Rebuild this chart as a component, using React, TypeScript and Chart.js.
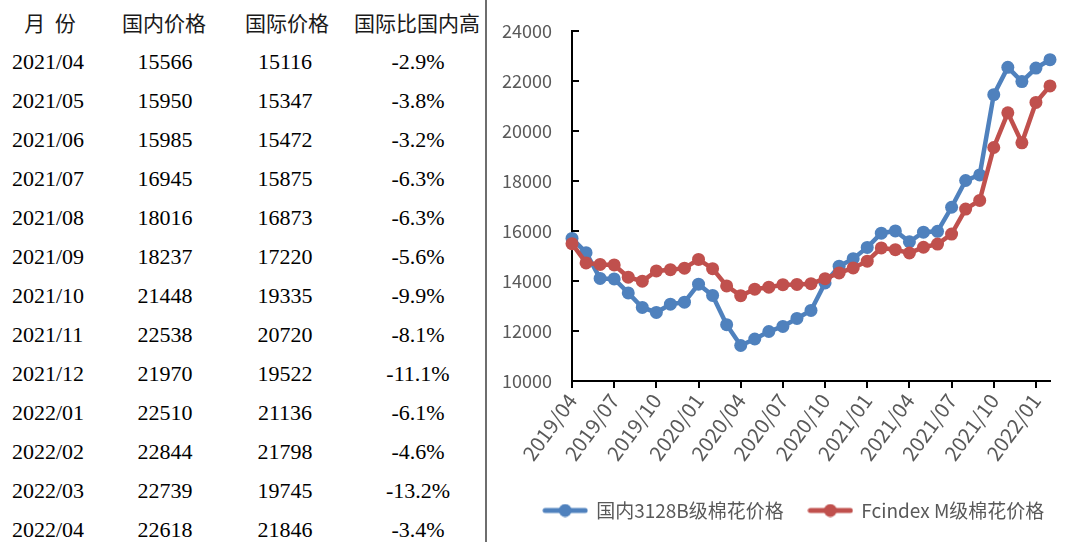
import React, { useEffect, useRef } from "react";
import { Chart, registerables } from "chart.js";

Chart.register(...registerables);

// ---------- chart data ----------
const months = [
  "2019/04", "2019/05", "2019/06", "2019/07", "2019/08", "2019/09", "2019/10", "2019/11", "2019/12",
  "2020/01", "2020/02", "2020/03", "2020/04", "2020/05", "2020/06", "2020/07", "2020/08", "2020/09",
  "2020/10", "2020/11", "2020/12", "2021/01", "2021/02", "2021/03", "2021/04", "2021/05", "2021/06",
  "2021/07", "2021/08", "2021/09", "2021/10", "2021/11", "2021/12", "2022/01", "2022/02",
];
const domestic3128B = [
  15700, 15130, 14100, 14080, 13520, 12940, 12740, 13070, 13150,
  13870, 13420, 12250, 11420, 11680, 11980, 12180, 12500, 12820,
  13920, 14590, 14890, 15340, 15910, 16000, 15566, 15950, 15985,
  16945, 18016, 18237, 21448, 22538, 21970, 22510, 22844,
];
const fcindexM = [
  15490, 14720, 14660, 14640, 14150, 13990, 14400, 14450, 14510,
  14860, 14490, 13800, 13410, 13670, 13750, 13850, 13860, 13890,
  14090, 14320, 14520, 14790, 15320, 15250, 15116, 15347, 15472,
  15875, 16873, 17220, 19335, 20720, 19522, 21136, 21798,
];
const seriesNames = ["国内3128B级棉花价格", "Fcindex M级棉花价格"];
const yMin = 10000;
const yMax = 24000;
const yStep = 2000;
const xLabelEvery = 3;

// ---------- table data ----------
const tableHeaders = ["月 份", "国内价格", "国际价格", "国际比国内高"];
const tableMonths = [
  "2021/04", "2021/05", "2021/06", "2021/07", "2021/08", "2021/09", "2021/10",
  "2021/11", "2021/12", "2022/01", "2022/02", "2022/03", "2022/04",
];
const tableDomestic = [15566, 15950, 15985, 16945, 18016, 18237, 21448, 22538, 21970, 22510, 22844, 22739, 22618];
const tableIntl = [15116, 15347, 15472, 15875, 16873, 17220, 19335, 20720, 19522, 21136, 21798, 19745, 21846];
const tableDiff = ["-2.9%", "-3.8%", "-3.2%", "-6.3%", "-6.3%", "-5.6%", "-9.9%", "-8.1%", "-11.1%", "-6.1%", "-4.6%", "-13.2%", "-3.4%"];

const BLUE = "#4F81BD";
const RED = "#C0504D";
const AXIS_TEXT = "#595959";
const CJK = "'Noto Sans CJK SC', 'Noto Sans', sans-serif";

function legendSample(color: string): HTMLCanvasElement {
  const c = document.createElement("canvas");
  c.width = 46;
  c.height = 14;
  const ctx = c.getContext("2d")!;
  ctx.strokeStyle = color;
  ctx.lineWidth = 5;
  ctx.lineCap = "round";
  ctx.beginPath();
  ctx.moveTo(3, 7);
  ctx.lineTo(43, 7);
  ctx.stroke();
  ctx.fillStyle = color;
  ctx.beginPath();
  ctx.arc(23, 7, 6.5, 0, Math.PI * 2);
  ctx.fill();
  return c;
}

const innerYTicks = {
  id: "innerYTicks",
  afterDraw(chart: any) {
    const y = chart.scales.y;
    const area = chart.chartArea;
    const ctx = chart.ctx;
    ctx.save();
    ctx.strokeStyle = "#000";
    ctx.lineWidth = 2;
    y.ticks.forEach((t: any) => {
      const py = Math.round(y.getPixelForValue(t.value));
      ctx.beginPath();
      ctx.moveTo(area.left, py);
      ctx.lineTo(area.left + 7, py);
      ctx.stroke();
    });
    ctx.restore();
  },
};

function PriceChart() {
  const ref = useRef<HTMLCanvasElement | null>(null);
  useEffect(() => {
    if (!ref.current) return;
    const samples = [legendSample(BLUE), legendSample(RED)];
    const chart = new Chart(ref.current, {
      type: "line",
      data: {
        labels: months,
        datasets: [
          {
            label: seriesNames[0],
            data: domestic3128B,
            borderColor: BLUE,
            backgroundColor: BLUE,
            borderWidth: 4.5,
            pointRadius: 6.5,
            pointBorderWidth: 0,
            pointBackgroundColor: BLUE,
            tension: 0,
            clip: false,
            order: 2,
          },
          {
            label: seriesNames[1],
            data: fcindexM,
            borderColor: RED,
            backgroundColor: RED,
            borderWidth: 4.5,
            pointRadius: 6.5,
            pointBorderWidth: 0,
            pointBackgroundColor: RED,
            tension: 0,
            clip: false,
            order: 1,
          },
        ],
      },
      options: {
        responsive: false,
        animation: false,
        layout: { padding: { top: 29, right: 0, bottom: 12, left: 10 } },
        plugins: {
          tooltip: { enabled: false },
          legend: {
            display: true,
            position: "bottom",
            labels: {
              usePointStyle: true,
              pointStyleWidth: 43,
              padding: 25,
              color: AXIS_TEXT,
              font: { family: CJK, size: 19 },
              generateLabels: (c: any) => {
                const items = Chart.defaults.plugins.legend.labels.generateLabels(c);
                items.sort((a: any, b: any) => a.datasetIndex - b.datasetIndex);
                items.forEach((it: any) => {
                  it.pointStyle = samples[it.datasetIndex];
                  it.fontColor = AXIS_TEXT;
                });
                return items;
              },
            },
          },
        },
        scales: {
          x: {
            type: "category",
            offset: false,
            afterFit: (s: any) => {
              s.height = 95;
            },
            grid: {
              display: true,
              drawOnChartArea: false,
              drawTicks: true,
              tickLength: 7,
              color: "#000",
              lineWidth: 2,
            },
            border: { display: true, color: "#000", width: 2 },
            ticks: {
              autoSkip: false,
              maxRotation: 54,
              minRotation: 54,
              padding: 1,
              color: AXIS_TEXT,
              font: { family: CJK, size: 20.5 },
              callback: (_v: any, i: number) => (i % xLabelEvery === 0 ? months[i] : null),
            },
          },
          y: {
            min: yMin,
            max: yMax,
            afterFit: (s: any) => {
              s.width = 72;
            },
            grid: { display: false, drawTicks: false },
            border: { display: true, color: "#000", width: 2 },
            ticks: {
              stepSize: yStep,
              padding: 20,
              color: AXIS_TEXT,
              font: { family: CJK, size: 18 },
              callback: (v: any) => String(v),
            },
          },
          yRightSpace: {
            type: "linear",
            position: "right",
            display: true,
            afterFit: (s: any) => {
              s.width = 38;
            },
            grid: { display: false, drawTicks: false },
            border: { display: false },
            ticks: { display: false },
          },
        },
      },
      plugins: [innerYTicks],
    });
    return () => chart.destroy();
  }, []);
  return <canvas ref={ref} width={598} height={542} style={{ display: "block" }} />;
}

const cellBase: React.CSSProperties = {
  position: "absolute",
  whiteSpace: "nowrap",
  lineHeight: "1",
};

export default function App() {
  useEffect(() => {
    document.body.style.margin = "0";
  }, []);
  const rowTop = 61.5;
  const rowGap = 39;
  const headerCenters = [50, 164, 287, 417];
  const serif = "'Liberation Serif', 'Times New Roman', serif";
  return (
    <div style={{ position: "relative", width: 1088, height: 542, background: "#fff", overflow: "hidden" }}>
      {tableHeaders.map((h, i) => (
        <div
          key={"h" + i}
          style={{
            ...cellBase,
            top: 23 - 11,
            left: headerCenters[i] - 100,
            width: 200,
            textAlign: "center",
            fontFamily: CJK,
            fontSize: 21,
            color: "#1a1a1a",
            wordSpacing: i === 0 ? 5 : 0,
          }}
        >
          {h}
        </div>
      ))}
      {tableMonths.map((m, r) => {
        const top = rowTop + r * rowGap - 11;
        const common = { ...cellBase, top, fontFamily: serif, fontSize: 22, color: "#000" } as React.CSSProperties;
        return (
          <React.Fragment key={m}>
            <div style={{ ...common, left: 12 }}>{m}</div>
            <div style={{ ...common, left: 165 - 60, width: 120, textAlign: "center" }}>{tableDomestic[r]}</div>
            <div style={{ ...common, left: 285 - 60, width: 120, textAlign: "center" }}>{tableIntl[r]}</div>
            <div style={{ ...common, left: 418 - 60, width: 120, textAlign: "center" }}>{tableDiff[r]}</div>
          </React.Fragment>
        );
      })}
      <div style={{ position: "absolute", left: 485, top: 0, width: 2, height: 542, background: "#6e6e6e" }} />
      <div style={{ position: "absolute", left: 490, top: 0 }}>
        <PriceChart />
      </div>
    </div>
  );
}
